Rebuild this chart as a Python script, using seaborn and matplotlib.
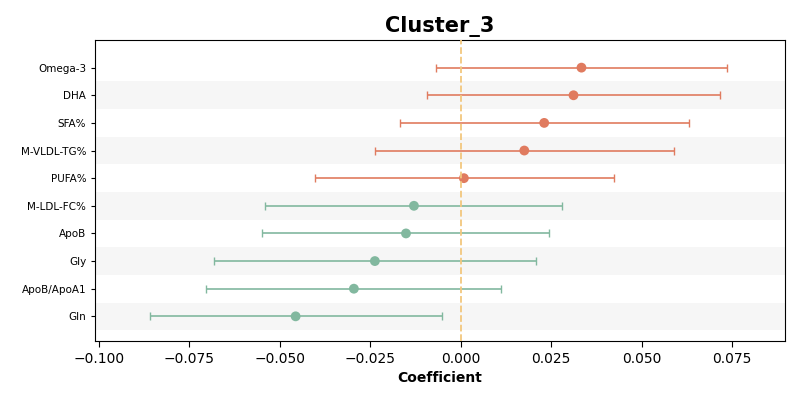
import numpy as np
import matplotlib
matplotlib.use("Agg")
import matplotlib.pyplot as plt
import seaborn as sns
import pandas as pd

## values
features = ["Omega-3", "DHA", "SFA%", "M-VLDL-TG%", "PUFA%",
            "M-LDL-FC%", "ApoB", "Gly", "ApoB/ApoA1", "Gln"]
coef = [0.0334, 0.0312, 0.0231, 0.0176, 0.0009,
        -0.0129, -0.0151, -0.0237, -0.0295, -0.0456]
ci_low = [-0.0068, -0.0093, -0.0168, -0.0237, -0.0403,
          -0.0540, -0.0550, -0.0683, -0.0703, -0.0858]
ci_high = [0.0735, 0.0716, 0.0630, 0.0589, 0.0425,
           0.0281, 0.0245, 0.0209, 0.0112, -0.0052]

df = pd.DataFrame({"feature": features, "coef": coef, "lo": ci_low, "hi": ci_high})
df["sign"] = np.where(df["coef"] > 0, "pos", "neg")
palette = {"pos": "#E07B5F", "neg": "#82B89F"}

sns.set_style("white")
plt.rcParams["text.color"] = "black"
plt.rcParams["axes.labelcolor"] = "black"
plt.rcParams["xtick.color"] = "black"
plt.rcParams["ytick.color"] = "black"
fig, ax = plt.subplots(figsize=(8, 4), dpi=100)

## background stripes on every other row
for i in range(len(features)):
    if i % 2 == 1:
        ax.axhspan(i - 0.5, i + 0.5, color="#f6f6f6", zorder=0, linewidth=0)

for i, row in df.iterrows():
    c = palette[row["sign"]]
    ax.errorbar(row["coef"], i, xerr=[[row["coef"] - row["lo"]], [row["hi"] - row["coef"]]],
                fmt="none", ecolor=c, elinewidth=1.2, capsize=3, zorder=2)

sns.scatterplot(data=df, x="coef", y="feature", hue="sign", palette=palette,
                s=50, edgecolor="none", legend=False, ax=ax, zorder=3)

ax.axvline(0, color="#F2C77E", linestyle="--", linewidth=1.3, zorder=4)
ax.set_xlim(-0.101, 0.0896)
ax.set_ylim(len(features) - 0.5 + 0.4, -0.5 - 0.5)
ax.set_xlabel("Coefficient", fontweight="bold")
ax.set_ylabel("")
ax.set_title("Cluster_3", fontsize=15, fontweight="bold")
ax.tick_params(axis="y", labelsize=7.5, left=True, length=3)
ax.tick_params(axis="x", labelsize=10, bottom=True, length=4)
for s in ax.spines.values():
    s.set_color("black")

plt.subplots_adjust(left=0.119, right=0.981, top=0.9, bottom=0.147)
plt.savefig("out.png")
